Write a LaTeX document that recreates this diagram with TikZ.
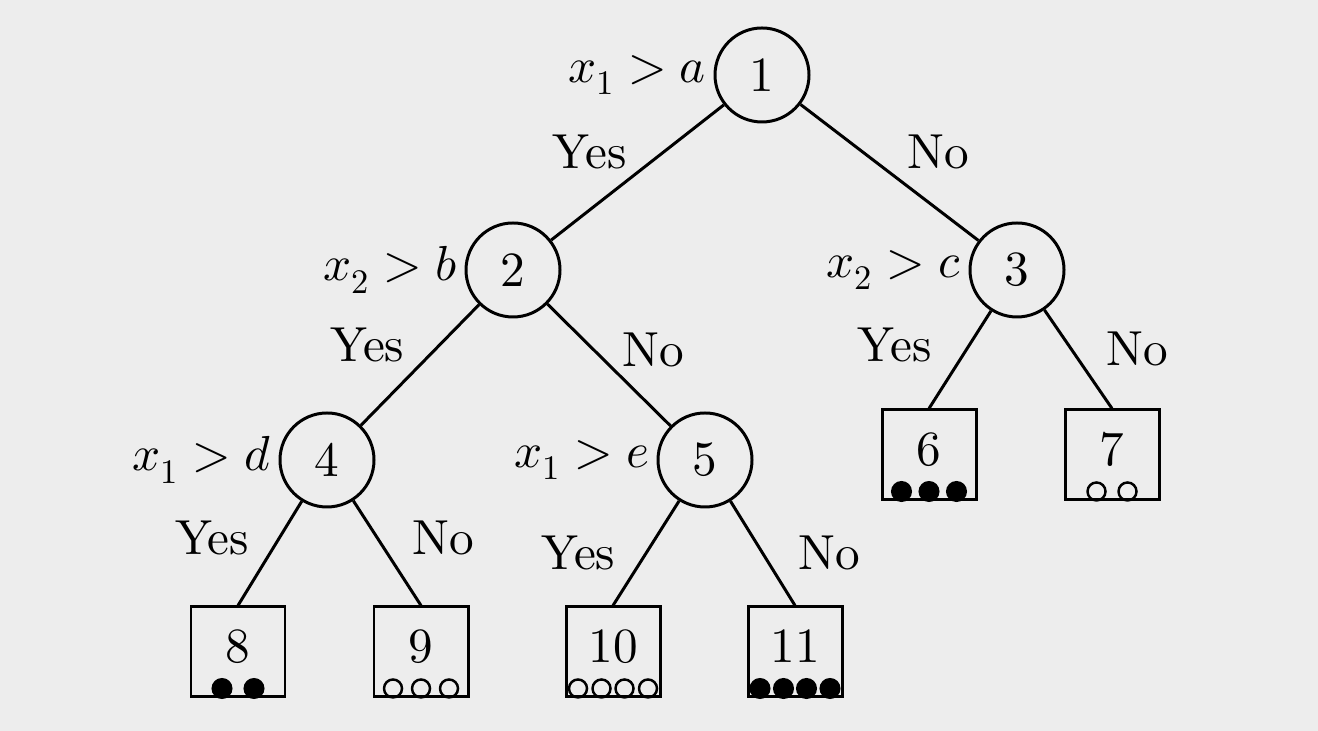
\documentclass[tikz,border=0pt]{standalone}
\usepackage{unicode-math}
\setmainfont{lmroman10-regular.otf}[ItalicFont=lmroman10-italic.otf,BoldFont=lmroman10-bold.otf]
\setmathfont{Latin Modern Math}
\usetikzlibrary{positioning}

\tikzset{
  test/.style={circle,draw,line width=1.7pt,minimum size=1.88cm,inner sep=0pt},
  leaf/.style={rectangle,draw,line width=1.7pt,minimum width=1.88cm,minimum height=1.8cm,inner sep=0pt,text depth=0.25cm},
  ans/.style={inner sep=1pt},
  full/.style={fill=black},
  hollow/.style={line width=1.4pt}
}
% row of balls along the bottom of a leaf
\newcommand{\ballrow}[3]{%
  \foreach \dx in {#3}
    \draw[#2] ([xshift=\dx cm,yshift=0.2cm]#1.south) circle (0.18);}

\begin{document}
\begin{tikzpicture}[every node/.style={font=\fontsize{28}{34}\selectfont},
  every label/.style={inner sep=0.12cm}, line width=1.7pt]
\fill[black!7] (0,0) rectangle (26.36,14.62);
\useasboundingbox (0,0) rectangle (26.36,14.62);

\node[test,label=left:$x_1>a$] at (15.24,13.12) (n1) {1};
\node[test,label=left:$x_2>b$] at (10.26,9.22) (n2) {2};
\node[test,label=left:$x_2>c$] at (20.34,9.22) (n3) {3};
\node[test,label=left:$x_1>d$] at (6.54,5.42) (n4) {4};
\node[test,label=left:$x_1>e$] at (14.10,5.42) (n5) {5};

\node[leaf] at (18.58,5.52) (n6) {6};
\node[leaf] at (22.24,5.52) (n7) {7};
\node[leaf] at (4.76,1.58) (n8) {8};
\node[leaf] at (8.42,1.58) (n9) {9};
\node[leaf] at (12.26,1.58) (n10) {10};
\node[leaf] at (15.90,1.58) (n11) {11};

\draw (n1) -- node[ans,above left,xshift=-0.15cm]{Yes} (n2);
\draw (n1) -- node[ans,above right,xshift=0.3cm]{No} (n3);
\draw (n2) -- node[ans,above left,xshift=-0.25cm]{Yes} (n4);
\draw (n2) -- node[ans,above right,xshift=0.2cm,yshift=-0.1cm]{No} (n5);
\draw (n3) -- node[ans,left=0.5cm,yshift=0.3cm]{Yes} (n6.north);
\draw (n3) -- node[ans,right=0.5cm,yshift=0.2cm]{No} (n7.north);
\draw (n4) -- node[ans,left=0.35cm,yshift=0.3cm]{Yes} (n8.north);
\draw (n4) -- node[ans,right=0.45cm,yshift=0.3cm]{No} (n9.north);
\draw (n5) -- node[ans,left=0.55cm]{Yes} (n10.north);
\draw (n5) -- node[ans,right=0.65cm]{No} (n11.north);

\ballrow{n6}{full}{-0.55,0,0.55}
\ballrow{n7}{hollow}{-0.31,0.31}
\ballrow{n8}{full}{-0.32,0.32}
\ballrow{n9}{hollow}{-0.56,0,0.56}
\ballrow{n10}{hollow}{-0.7,-0.23,0.23,0.7}
\ballrow{n11}{full}{-0.7,-0.23,0.23,0.7}
\end{tikzpicture}
\end{document}
